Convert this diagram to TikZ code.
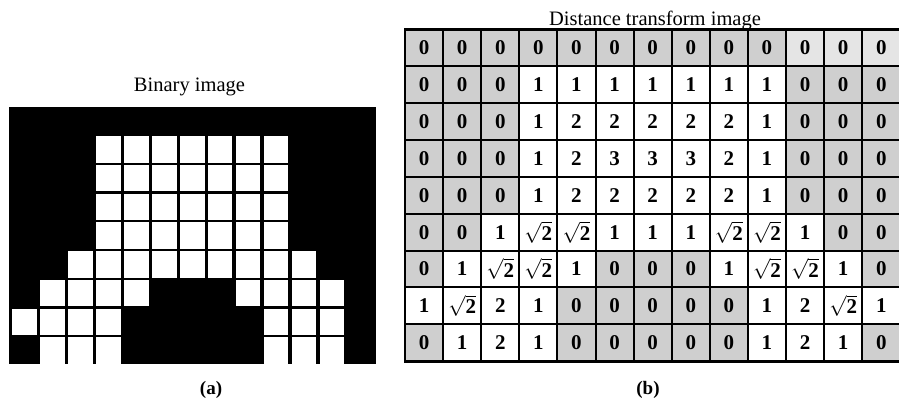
\documentclass[tikz,border=0pt]{standalone}
\usepackage{fontspec}
\setmainfont{Liberation Serif}
\begin{document}
\begin{tikzpicture}[x=1pt,y=-1pt,
  title/.style={font=\fontsize{20.5}{24}\selectfont, inner sep=0pt, anchor=base},
  lab/.style={font=\bfseries\fontsize{19}{24}\selectfont, inner sep=0pt, anchor=base},
  num/.style={font=\bfseries\fontsize{21}{24}\selectfont, inner sep=0pt},
  zerofill/.style={fill=gray!38},
  lightfill/.style={fill=gray!20},
  gridline/.style={line width=2pt, black},
  outerline/.style={line width=2.8pt, black}]
\clip (0,0) rectangle (899,401);
\fill[white] (0,0) rectangle (899,401);
\def\zerostr{0}
\def\sq{$\sqrt{\textbf{2}}$}
% ---------- binary image ----------
\fill[black] (9,107) rectangle (376,364);
\foreach \r/\cs in {1/{3,4,5,6,7,8,9},2/{3,4,5,6,7,8,9},3/{3,4,5,6,7,8,9},4/{3,4,5,6,7,8,9},
  5/{2,3,4,5,6,7,8,9,10},6/{1,2,3,4,8,9,10,11},7/{0,1,2,3,9,10,11},8/{1,2,3,9,10,11}}{
  \foreach \c in \cs {
    \fill[white] ({12.3+27.95*\c},{136+28.76*(\r-1)}) rectangle +(24.5,26.5);
  }
}
\node[title] (t1) at (189.5,92) {Binary image};
\node[lab] (la) at (211,394) {(a)};
% ---------- distance transform ----------
\foreach \r/\row in {
  0/{0,0,0,0,0,0,0,0,0,0,0,0,0},
  1/{0,0,0,1,1,1,1,1,1,1,0,0,0},
  2/{0,0,0,1,2,2,2,2,2,1,0,0,0},
  3/{0,0,0,1,2,3,3,3,2,1,0,0,0},
  4/{0,0,0,1,2,2,2,2,2,1,0,0,0},
  5/{0,0,1,\sq,\sq,1,1,1,\sq,\sq,1,0,0},
  6/{0,1,\sq,\sq,1,0,0,0,1,\sq,\sq,1,0},
  7/{1,\sq,2,1,0,0,0,0,0,1,2,\sq,1},
  8/{0,1,2,1,0,0,0,0,0,1,2,1,0}}{
  \foreach \v [count=\c from 0] in \row {
    \ifx\v\zerostr
      \ifnum\r=0 \ifnum\c>9
        \fill[lightfill] ({405+38.1*\c},{29.5+36.85*\r}) rectangle +(38.1,36.85);
      \else
        \fill[zerofill] ({405+38.1*\c},{29.5+36.85*\r}) rectangle +(38.1,36.85);
      \fi
      \else
        \fill[zerofill] ({405+38.1*\c},{29.5+36.85*\r}) rectangle +(38.1,36.85);
      \fi
    \fi
    \node[num] (dt-\r-\c) at ({405+38.1*(\c+0.5)},{29.5+36.85*(\r+0.5)}) {\v};
  }
}
\foreach \c in {1,...,12}
  \draw[gridline] ({405+38.1*\c},29.5) -- ({405+38.1*\c},361.15);
\foreach \r in {1,...,8}
  \draw[gridline] (405,{29.5+36.85*\r}) -- (900.3,{29.5+36.85*\r});
\draw[outerline] (405,29.5) rectangle (900.3,361.15);
\node[title] (t2) at (655,25.5) {Distance transform image};
\node[lab] (lb) at (648,394) {(b)};
\end{tikzpicture}
\end{document}
